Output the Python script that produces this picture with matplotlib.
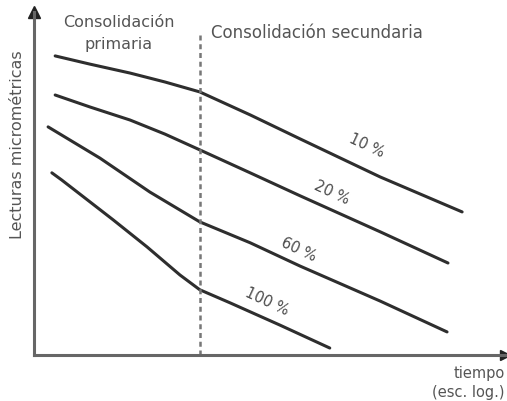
import numpy as np
from matplotlib import pyplot as plt

# curves: x = log time (0..10), y = dial reading (0..10)
x_10 = [0.45, 1.19, 2.04, 2.78, 3.52, 4.59, 5.65, 7.35, 9.09]
y_10 = [8.72, 8.48, 8.22, 7.96, 7.67, 7.00, 6.30, 5.19, 4.17]
x_20 = [0.45, 1.19, 2.04, 2.78, 3.52, 4.59, 5.65, 7.35, 8.79]
y_20 = [7.58, 7.23, 6.85, 6.44, 5.98, 5.31, 4.64, 3.59, 2.68]
x_60 = [0.30, 1.40, 2.46, 3.52, 4.59, 5.65, 7.35, 8.77]
y_60 = [6.65, 5.74, 4.75, 3.88, 3.27, 2.59, 1.57, 0.67]
x_100 = [0.38, 0.59, 1.68, 2.40, 3.10, 3.52, 4.16, 5.22, 6.28]
y_100 = [5.31, 5.10, 3.94, 3.15, 2.33, 1.90, 1.52, 0.87, 0.20]

labels = ['10 %', '20 %', '60 %', '100 %']
label_x = [7.07, 6.33, 5.63, 4.95]
label_y = [6.09, 4.72, 3.06, 1.55]

split_x = 3.52  # end of primary consolidation

fig = plt.figure(figsize=(5.07, 4.01), dpi=100)
ax = fig.add_axes([0.067, 0.115, 0.929, 0.855])
ax.set_xlim(0, 10)
ax.set_ylim(0, 10)

line_c = '#2e2e2e'
for xs, ys in [(x_10, y_10), (x_20, y_20), (x_60, y_60), (x_100, y_100)]:
    ax.plot(xs, ys, color=line_c, lw=2.2, solid_capstyle='round',
            solid_joinstyle='round')

for lab, lx, ly in zip(labels, label_x, label_y):
    ax.text(lx, ly, lab, rotation=-25, ha='center', va='center',
            fontsize=10.5, color='#4a4a4a')

ax.plot([split_x, split_x], [0, 9.33], color='#777777', lw=1.8,
        linestyle=(0, (2, 1.5)))

for s in ['top', 'right']:
    ax.spines[s].set_visible(False)
for s in ['left', 'bottom']:
    ax.spines[s].set_color('#666666')
    ax.spines[s].set_linewidth(2.2)
ax.set_xticks([])
ax.set_yticks([])
ax.patch.set_alpha(0)

# arrow heads
ax.plot(0, 10, marker='^', color='#222222', ms=8, clip_on=False)
ax.plot(10, 0, marker='>', color='#222222', ms=7, clip_on=False)

tc = '#555555'
ax.text(1.80, 9.37, 'Consolidación\nprimaria', ha='center', va='center',
        fontsize=11.5, color=tc, linespacing=1.6)
ax.text(3.75, 9.4, 'Consolidación secundaria', ha='left', va='center',
        fontsize=12, color=tc)

fig.text(0.034, 0.64, 'Lecturas micrométricas', rotation=90, ha='center',
         va='center', fontsize=11.5, color=tc)
fig.text(0.995, 0.045, 'tiempo\n(esc. log.)', ha='right', va='center',
         fontsize=10.5, color=tc, linespacing=1.3)

fig.savefig('out.png', dpi=100)
